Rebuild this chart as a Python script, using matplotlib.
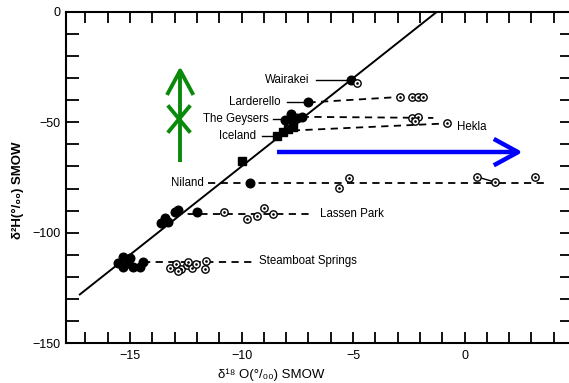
import matplotlib
matplotlib.use('Agg')
import matplotlib.pyplot as plt
from matplotlib.ticker import MultipleLocator, FuncFormatter

plt.rcParams['font.family'] = ['Liberation Sans', 'DejaVu Sans']

# ---------------- data ----------------
# meteoric water line  dD = 8 * d18O + 10
mwl_slope = 8
mwl_intercept = 10
mwl_x = [-17.25, -1.25]

# local meteoric waters (filled symbols)
wairakei_met_x = [-5.1]
wairakei_met_y = [-31]
larderello_met_x = [-7.0]
larderello_met_y = [-41]
geysers_met_x = [-8.05, -7.8, -7.7, -7.5, -7.3]
geysers_met_y = [-49, -46, -50, -48, -47.5]
iceland_met_x = [-8.4, -8.15, -7.9, -7.7]
iceland_met_y = [-56.2, -54.5, -53, -52]
square_x = [-10.0]
square_y = [-67.5]
niland_met_x = [-9.6]
niland_met_y = [-77.5]
lassen_met_x = [-13.6, -13.45, -13.3, -13.0, -12.85, -12.0]
lassen_met_y = [-95.5, -93.5, -95, -90.5, -89.7, -90.5]
steamboat_met_x = [-15.55, -15.3, -15.3, -15.1, -14.87, -14.55, -14.4, -15.0]
steamboat_met_y = [-113.7, -111, -115.5, -113.7, -115.5, -115.5, -113.3, -111.5]

# thermal waters (open symbols)
wairakei_th_x = [-4.8]
wairakei_th_y = [-32]
larderello_th_x = [-2.9, -2.35, -2.1, -1.85]
larderello_th_y = [-38.5, -38.5, -38.5, -38.5]
geysers_th_x = [-2.35, -2.1, -2.2]
geysers_th_y = [-48, -47.5, -49.5]
hekla_th_x = [-0.8]
hekla_th_y = [-50.5]
niland_th_x = [-5.2, -5.63, 0.58, 1.35, 3.14]
niland_th_y = [-75.3, -79.8, -74.8, -77, -74.8]
lassen_th_x = [-10.8, -9.75, -9.3, -9.0, -8.6]
lassen_th_y = [-90.6, -94, -92.5, -89, -91.5]
steamboat_th_x = [-13.2, -12.95, -12.7, -12.45, -12.2, -12.85, -12.4, -12.05, -11.6, -11.65]
steamboat_th_y = [-116, -114, -116.5, -114.5, -116, -117.5, -113.5, -114, -113, -116.5]

# annotation arrows (overlay)
green_arrow_x = -12.75
green_arrow_y = [-68, -26.5]
green_x_center = (-12.8, -48.5)
blue_arrow_x = [-8.4, 2.4]
blue_arrow_y = -63.5

# ---------------- figure ----------------
W, H = 569, 383
fig = plt.figure(figsize=(W / 100, H / 100), dpi=100)
ax = fig.add_axes([66 / W, (H - 343) / H, (572 - 66) / W, (343 - 12) / H])
ax.set_xlim(-17.87, 4.82)
ax.set_ylim(-150, 0)

# meteoric water line
ax.plot(mwl_x, [mwl_slope * v + mwl_intercept for v in mwl_x], color='black', lw=1.4, zorder=3)

dash = dict(color='black', lw=1.3, dashes=(4, 3), zorder=2)

# dashed connectors
ax.plot([larderello_met_x[-1], larderello_th_x[0]], [larderello_met_y[-1], larderello_th_y[0]], **dash)
ax.plot([geysers_met_x[-1], geysers_th_x[-1] + 0.8], [geysers_met_y[-1], geysers_th_y[0]], **dash)
ax.plot([iceland_met_x[-1], hekla_th_x[0]], [iceland_met_y[0] + 2.5, hekla_th_y[0]], **dash)
ax.plot([-11.5, 3.7], [niland_met_y[0], niland_met_y[0]], **dash)
ax.plot([lassen_met_x[3], -6.8], [lassen_met_y[-1] - 1, lassen_met_y[-1] - 1], **dash)
ax.plot([steamboat_met_x[6], -9.5], [steamboat_met_y[6], steamboat_met_y[6]], **dash)

# solid link between two Niland points
ax.plot(niland_th_x[2:4], niland_th_y[2:4], color='black', lw=1.0, zorder=2)

# filled symbols
for xs, ys in [(wairakei_met_x, wairakei_met_y), (larderello_met_x, larderello_met_y),
               (geysers_met_x, geysers_met_y), (niland_met_x, niland_met_y),
               (lassen_met_x, lassen_met_y), (steamboat_met_x, steamboat_met_y)]:
    ax.plot(xs, ys, 'o', color='black', ms=6.2, zorder=4)
for xs, ys in [(iceland_met_x, iceland_met_y), (square_x, square_y)]:
    ax.plot(xs, ys, 's', color='black', ms=5.5, zorder=4)

# open symbols with centre dot
for xs, ys in [(wairakei_th_x, wairakei_th_y), (larderello_th_x, larderello_th_y),
               (geysers_th_x, geysers_th_y), (hekla_th_x, hekla_th_y),
               (niland_th_x, niland_th_y), (lassen_th_x, lassen_th_y),
               (steamboat_th_x, steamboat_th_y)]:
    ax.plot(xs, ys, 'o', mfc='white', mec='black', mew=1.0, ms=5.3, zorder=5)
    ax.plot(xs, ys, '.', color='black', ms=1.8, zorder=6)

# labels and leaders
fs = 8.3
ax.text(-6.95, -31, 'Wairakei', ha='right', va='center', fontsize=fs)
ax.plot([-6.65, -5.3], [-31, -31], color='black', lw=1.0)
ax.text(-8.25, -41, 'Larderello', ha='right', va='center', fontsize=fs)
ax.plot([-7.95, -7.15], [-41, -41], color='black', lw=1.0)
ax.text(-8.8, -48.5, 'The Geysers', ha='right', va='center', fontsize=fs)
ax.plot([-8.6, -7.95], [-48.5, -48.5], color='black', lw=1.0)
ax.text(-9.35, -56, 'Iceland', ha='right', va='center', fontsize=fs)
ax.plot([-9.1, -8.45], [-56, -56], color='black', lw=1.0)
ax.text(-0.35, -52, 'Hekla', ha='left', va='center', fontsize=fs)
ax.text(-11.7, -77.5, 'Niland', ha='right', va='center', fontsize=fs)
ax.text(-6.5, -91.5, 'Lassen Park', ha='left', va='center', fontsize=fs)
ax.text(-9.2, -113, 'Steamboat Springs', ha='left', va='center', fontsize=fs)

# green arrow with X
g = '#0a8a0a'
ax.plot([green_arrow_x, green_arrow_x], green_arrow_y, color=g, lw=2.8, zorder=7, solid_capstyle='butt')
ax.plot([green_arrow_x - 0.55, green_arrow_x, green_arrow_x + 0.55],
        [green_arrow_y[1] - 10.3, green_arrow_y[1], green_arrow_y[1] - 10.3],
        color=g, lw=2.8, zorder=7)
cx, cy = green_x_center
ax.plot([cx - 0.45, cx + 0.45], [cy + 5.5, cy - 5.5], color=g, lw=2.8, zorder=7)
ax.plot([cx - 0.45, cx + 0.45], [cy - 5.5, cy + 5.5], color=g, lw=2.8, zorder=7)

# blue arrow
b = '#0000ff'
ax.plot(blue_arrow_x, [blue_arrow_y, blue_arrow_y], color=b, lw=3.2, zorder=7, solid_capstyle='butt')
ax.plot([blue_arrow_x[1] - 1.0, blue_arrow_x[1], blue_arrow_x[1] - 1.0],
        [blue_arrow_y + 5.5, blue_arrow_y, blue_arrow_y - 5.5], color=b, lw=3.2, zorder=7)

# axes style
for s in ['left', 'bottom', 'top']:
    ax.spines[s].set_linewidth(1.5)
ax.spines['right'].set_visible(False)
ax.xaxis.set_major_locator(MultipleLocator(1))
ax.yaxis.set_major_locator(MultipleLocator(10))
xlab = {-15: '\u221215', -10: '\u221210', -5: '\u22125', 0: '0'}
ylab = {0: '0', -50: '\u221250', -100: '\u2212100', -150: '\u2212150'}
ax.xaxis.set_major_formatter(FuncFormatter(lambda v, p: xlab.get(int(round(v)), '')))
ax.yaxis.set_major_formatter(FuncFormatter(lambda v, p: ylab.get(int(round(v)), '')))
ax.tick_params(axis='x', direction='in', length=8, width=1.3, labelsize=9, pad=5,
               top=True, bottom=True)
ax.tick_params(axis='y', direction='in', length=9, width=1.3, labelsize=9, pad=4,
               left=True, right=True)

fig.text(271 / W, 1 - 375 / H, '\u03b4\u00b9\u2078 O(\u00b0/\u2080\u2080) SMOW', ha='center', va='center', fontsize=9.5)
fig.text(18 / W, 1 - 190 / H, '\u03b4\u00b2H(\u00b0/\u2080\u2080) SMOW', ha='center', va='center',
         rotation=90, fontsize=9.5, fontweight='bold')

fig.savefig('out.png', dpi=100)
